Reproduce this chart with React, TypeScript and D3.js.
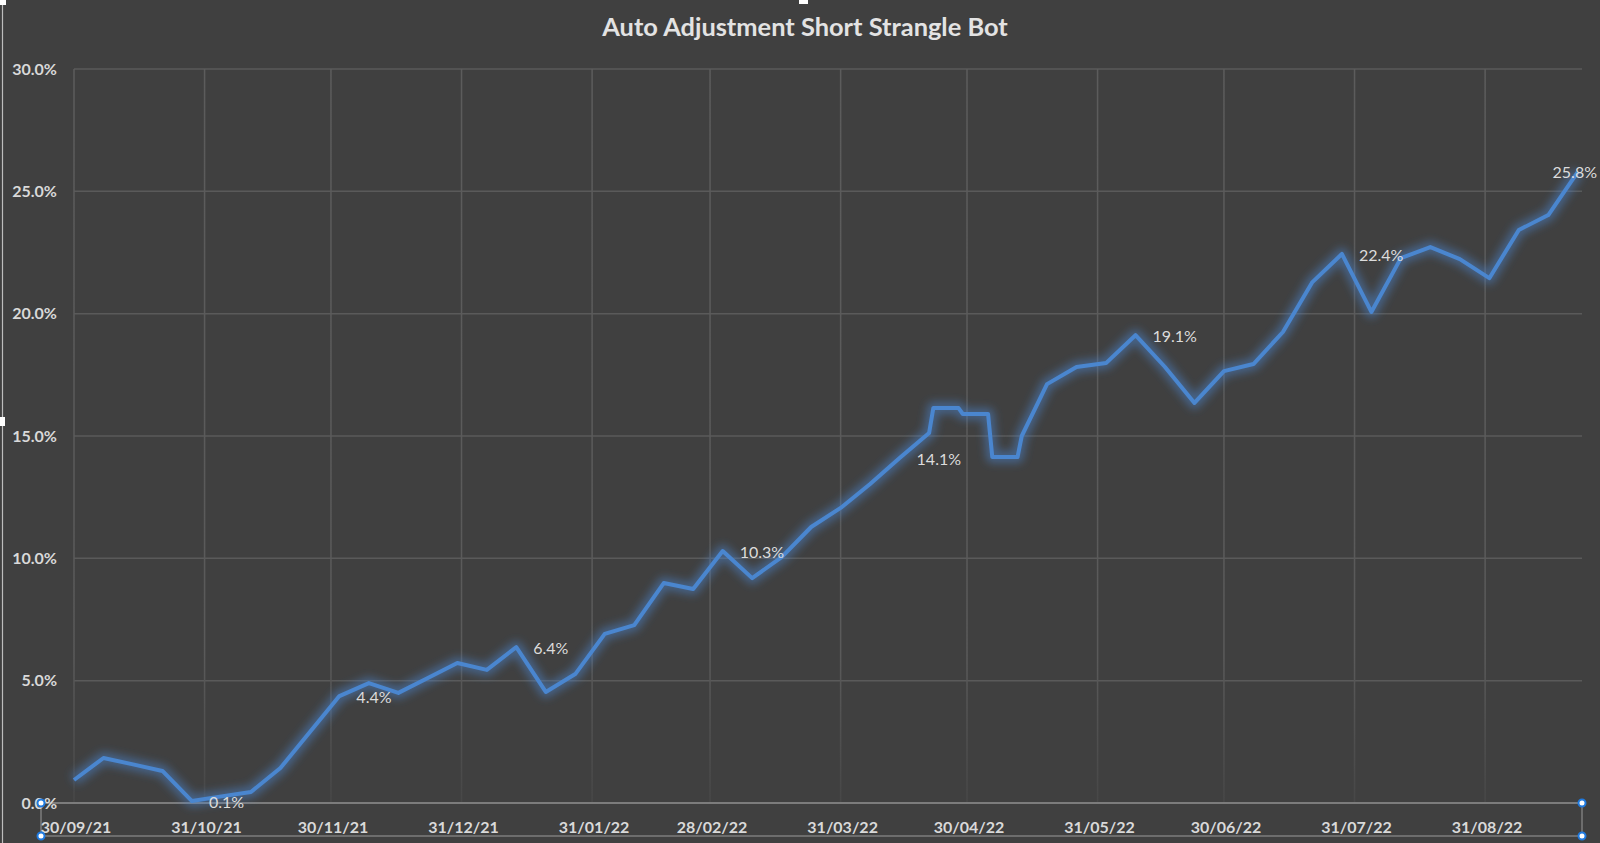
import React from "react";
import * as d3 from "d3";

const W = 1600;
const H = 843;

const title = "Auto Adjustment Short Strangle Bot";

const dates = [
  "2021-09-30", "2021-10-07", "2021-10-14", "2021-10-21", "2021-10-28",
  "2021-11-04", "2021-11-11", "2021-11-18", "2021-11-25", "2021-12-02",
  "2021-12-09", "2021-12-16", "2021-12-23", "2021-12-30", "2022-01-06",
  "2022-01-13", "2022-01-20", "2022-01-27", "2022-02-03", "2022-02-10",
  "2022-02-17", "2022-02-24", "2022-03-03", "2022-03-10", "2022-03-17",
  "2022-03-24", "2022-03-31", "2022-04-07", "2022-04-14", "2022-04-21",
  "2022-04-22", "2022-04-28", "2022-04-29", "2022-05-05", "2022-05-06",
  "2022-05-12", "2022-05-13", "2022-05-19", "2022-05-26", "2022-06-02",
  "2022-06-09", "2022-06-16", "2022-06-23", "2022-06-30", "2022-07-07",
  "2022-07-14", "2022-07-21", "2022-07-28", "2022-08-04", "2022-08-11",
  "2022-08-18", "2022-08-25", "2022-09-01", "2022-09-08", "2022-09-15",
  "2022-09-22",
];

const values = [
  0.94, 1.84, 1.58, 1.31, 0.08,
  0.27, 0.45, 1.43, 2.9, 4.37,
  4.9, 4.5, 5.11, 5.72, 5.44,
  6.37, 4.54, 5.27, 6.91, 7.27,
  8.99, 8.75, 10.3, 9.19, 10.05,
  11.28, 12.06, 13.04, 14.1, 15.12,
  16.14, 16.14, 15.9, 15.9, 14.14,
  14.14, 15.0, 17.12, 17.82, 17.98,
  19.12, 17.82, 16.35, 17.65, 17.94,
  19.25, 21.29, 22.44, 20.07, 22.27,
  22.72, 22.23, 21.45, 23.42, 24.03,
  25.8,
];

// indices of points that carry a data label
const labelledPoints = [4, 9, 15, 22, 28, 40, 47, 55];

const xTickLabels = [
  "30/09/21", "31/10/21", "30/11/21", "31/12/21", "31/01/22", "28/02/22",
  "31/03/22", "30/04/22", "31/05/22", "30/06/22", "31/07/22", "31/08/22",
];

const yTicks = [0, 5, 10, 15, 20, 25, 30];

const axisMin = "2021-09-30";
const axisMax = "2022-09-23";

const parseIso = d3.utcParse("%Y-%m-%d");
const parseTick = d3.utcParse("%d/%m/%y");

export default function App() {
  const left = 74;
  const right = 1582;
  const top = 69;
  const bottom = 803;

  const x = d3
    .scaleUtc()
    .domain([parseIso(axisMin) as Date, parseIso(axisMax) as Date])
    .range([left, right]);
  const y = d3.scaleLinear().domain([0, 30]).range([bottom, top]);

  const pts = dates.map((d, i) => [x(parseIso(d) as Date), y(values[i])] as [number, number]);
  const line = d3.line<[number, number]>().x((p) => p[0]).y((p) => p[1]);
  const path = line(pts) || "";

  const font = "Lato, 'Open Sans', sans-serif";
  const fmt = (v: number) => v.toFixed(1) + "%";

  return (
    <div style={{ position: "fixed", left: 0, top: 0, width: W, height: H }}>
      <svg width={W} height={H} viewBox={`0 0 ${W} ${H}`} style={{ display: "block" }}>
        <defs>
          <filter id="glow" filterUnits="userSpaceOnUse" x="0" y="0" width={W} height={H}>
            <feGaussianBlur stdDeviation="4" />
          </filter>
          <linearGradient id="vgrid" gradientUnits="userSpaceOnUse" x1="0" y1={top} x2="0" y2={bottom}>
            <stop offset="0" stopColor="#5c5c5c" />
            <stop offset="0.8" stopColor="#5a5a5a" />
            <stop offset="1" stopColor="#474747" />
          </linearGradient>
        </defs>
        <rect x={0} y={0} width={W} height={H} fill="#404040" />

        {/* horizontal gridlines */}
        {yTicks.map((t) => (
          <line key={"h" + t} x1={left} x2={right} y1={y(t)} y2={y(t)} stroke="#5a5a5a" strokeWidth={1.5} />
        ))}
        {/* vertical gridlines */}
        {xTickLabels.map((t) => {
          const xx = x(parseTick(t) as Date);
          return <line key={"v" + t} x1={xx} x2={xx} y1={top} y2={bottom} stroke="url(#vgrid)" strokeWidth={1.5} />;
        })}

        {/* axis line and selection box */}
        <line x1={41} x2={right} y1={bottom} y2={bottom} stroke="#7c7c7c" strokeWidth={2} />
        <line x1={41} x2={right} y1={836} y2={836} stroke="#7c7c7c" strokeWidth={1.5} />
        <line x1={41} x2={41} y1={bottom} y2={836} stroke="#7c7c7c" strokeWidth={1.5} />
        <line x1={right} x2={right} y1={bottom} y2={836} stroke="#7c7c7c" strokeWidth={1.5} />

        {/* y tick labels */}
        {yTicks.map((t) => (
          <text
            key={"yl" + t}
            x={57}
            y={y(t)}
            dy="0.35em"
            textAnchor="end"
            fontFamily={font}
            fontWeight={700}
            fontSize={16}
            fill="#d9d9d9"
          >
            {fmt(t)}
          </text>
        ))}

        {/* x tick labels */}
        {xTickLabels.map((t) => (
          <text
            key={"xl" + t}
            x={x(parseTick(t) as Date) + 2}
            y={833}
            textAnchor="middle"
            fontFamily={font}
            fontWeight={700}
            fontSize={16}
            fill="#d9d9d9"
          >
            {t}
          </text>
        ))}

        {/* line with glow */}
        <path d={path} fill="none" stroke="#4a86cf" strokeWidth={12} strokeOpacity={0.5} filter="url(#glow)" strokeLinejoin="round" />
        <path d={path} fill="none" stroke="#4a86cf" strokeWidth={4} strokeLinejoin="round" />

        {/* data labels */}
        {labelledPoints.map((i) => {
          const [px, py] = pts[i];
          const overflow = px + 19 + 44 > W - 3;
          return (
            <text
              key={"dl" + i}
              x={overflow ? W - 3 : px + 17}
              y={py + 1}
              dy="0.35em"
              textAnchor={overflow ? "end" : "start"}
              fontFamily={font}
              fontSize={16}
              fill="#dcdcdc"
            >
              {fmt(values[i])}
            </text>
          );
        })}

        {/* selection handles */}
        {[
          [41, bottom],
          [41, 836],
          [right, bottom],
          [right, 836],
        ].map(([hx, hy], k) => (
          <circle key={"hd" + k} cx={hx} cy={hy} r={3.5} fill="#ffffff" stroke="#1f7ae0" strokeWidth={2} />
        ))}

        {/* chart frame marks */}
        <line x1={2.5} x2={2.5} y1={0} y2={H} stroke="#bdbdbd" strokeWidth={1.2} />
        <rect x={0} y={0} width={6} height={5} fill="#ffffff" />
        <rect x={0} y={417} width={5} height={9} fill="#ffffff" />
        <rect x={799} y={0} width={9} height={4} fill="#ffffff" />

        {/* title */}
        <text
          x={805}
          y={36}
          textAnchor="middle"
          fontFamily={font}
          fontWeight={700}
          fontSize={25.4}
          fill="#e3e3e3"
        >
          {title}
        </text>
      </svg>
    </div>
  );
}
